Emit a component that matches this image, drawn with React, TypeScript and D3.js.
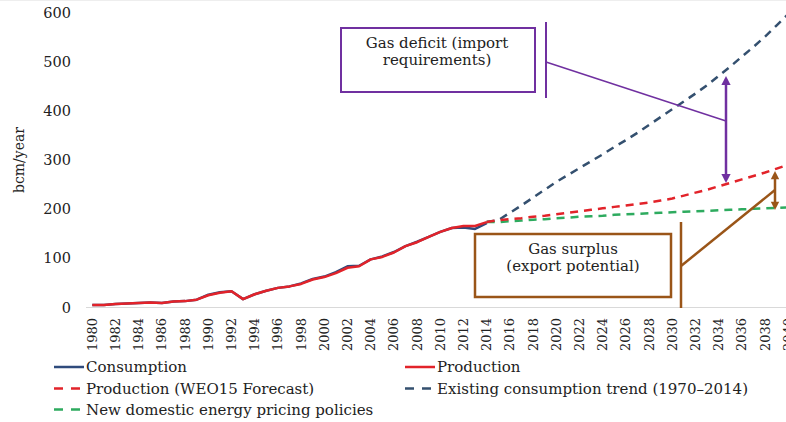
import React from "react";
import * as d3 from "d3";

const histYears = d3.range(1980, 2015);
const consumption = [5, 5, 7, 8, 9, 10, 9, 12, 13, 16, 26, 31, 33, 17, 27, 34, 40, 43, 49, 58, 63, 72, 84, 85, 98, 104, 113, 125, 134, 144, 154, 162, 163, 160, 172];
const production = [5, 5, 7, 8, 9, 10, 9, 12, 13, 16, 25, 30, 33, 17, 27, 34, 40, 43, 48, 57, 62, 70, 81, 84, 98, 103, 112, 125, 133, 144, 154, 162, 166, 166, 174];

const fcYears = d3.range(2014, 2041);
const trend = [174, 178, 193, 208, 224, 240, 256, 270, 284, 298, 312, 327, 341, 356, 372, 388, 404, 420, 436, 453, 472, 491, 511, 531, 552, 575, 598];
const weo15 = [174, 178, 180, 182, 185, 187, 190, 193, 196, 199, 202, 205, 208, 211, 214, 218, 222, 228, 234, 240, 247, 254, 261, 268, 275, 283, 291];
const pricing = [174, 174, 176, 177, 179, 180, 182, 183, 185, 186, 187, 189, 190, 191, 192, 193, 194, 195, 196, 197, 198, 199, 200, 201, 202, 203, 204];

const allYears = d3.range(1980, 2041);
const tickYears = allYears.filter((y) => (y - 1980) % 2 === 0);
const yTicks = [0, 100, 200, 300, 400, 500, 600];

const C_BLUE = "#2f4b7c";
const C_RED = "#e2232a";
const C_DBLUE = "#34506f";
const C_GREEN = "#2eab5f";
const C_PURPLE = "#7030a0";
const C_BROWN = "#9a5518";
const FONT = "'DejaVu Serif', serif";

export default function App() {
  const W = 786, H = 422;
  const x = d3.scalePoint<number>().domain(allYears).range([86.5, 794.1]).padding(0.5);
  const y = d3.scaleLinear().domain([0, 600]).range([307.5, 13]);
  const line = d3.line<[number, number]>().x((d) => x(d[0])!).y((d) => y(d[1]));
  const zip = (ys: number[], vs: number[]) => ys.map((yr, i) => [yr, vs[i]] as [number, number]);

  const legend = [
    { label: "Consumption", color: C_BLUE, dash: null, lx: 54, row: 0 },
    { label: "Production", color: C_RED, dash: null, lx: 405, row: 0 },
    { label: "Production (WEO15 Forecast)", color: C_RED, dash: "9,8", lx: 54, row: 1 },
    { label: "Existing consumption trend (1970–2014)", color: C_DBLUE, dash: "9,8", lx: 405, row: 1 },
    { label: "New domestic energy pricing policies", color: C_GREEN, dash: "9,8", lx: 54, row: 2 },
  ];
  const rowY = [367, 388.5, 409.5];

  const arrowHead = (cx: number, cy: number, dir: number, color: string, s = 6) => (
    <path d={`M${cx - s / 1.3},${cy + dir * s * 1.5} L${cx},${cy} L${cx + s / 1.3},${cy + dir * s * 1.5} Z`} fill={color} />
  );

  return (
    <div style={{ position: "absolute", left: 0, top: 0 }}>
      <svg width={W} height={H} style={{ display: "block", background: "#fff" }} fontFamily={FONT}>
        <line x1={0} x2={W} y1={0.5} y2={0.5} stroke="#eeeeee" />
        {/* baseline */}
        <line x1={86} x2={W} y1={y(0)} y2={y(0)} stroke="#d9d9d9" strokeWidth={1} />
        {/* y ticks */}
        {yTicks.map((t) => (
          <text key={t} x={71} y={y(t)} textAnchor="end" dominantBaseline="central" fontSize={14.5} fill="#222">
            {t}
          </text>
        ))}
        <text transform={`translate(19,160) rotate(-90)`} textAnchor="middle" dominantBaseline="central" fontSize={14} fill="#222">
          bcm/year
        </text>
        {/* x ticks */}
        {tickYears.map((t) => (
          <text key={t} transform={`translate(${x(t)},318) rotate(-90)`} textAnchor="end" dominantBaseline="central" fontSize={13} fill="#222">
            {t}
          </text>
        ))}
        {/* forecast lines */}
        <path d={line(zip(fcYears, trend))!} fill="none" stroke={C_DBLUE} strokeWidth={2.5} strokeDasharray="8,6" />
        <path d={line(zip(fcYears, pricing))!} fill="none" stroke={C_GREEN} strokeWidth={2.5} strokeDasharray="8,6" />
        <path d={line(zip(fcYears, weo15))!} fill="none" stroke={C_RED} strokeWidth={2.5} strokeDasharray="8,6" />
        {/* history */}
        <path d={line(zip(histYears, consumption))!} fill="none" stroke={C_BLUE} strokeWidth={2.5} strokeLinejoin="round" />
        <path d={line(zip(histYears, production))!} fill="none" stroke={C_RED} strokeWidth={2.5} strokeLinejoin="round" />

        {/* deficit annotation */}
        <rect x={341} y={28} width={194} height={64} fill="#fff" stroke={C_PURPLE} strokeWidth={2} />
        <text x={437} y={43} textAnchor="middle" dominantBaseline="central" fontSize={15} fill="#222">Gas deficit (import</text>
        <text x={437} y={60} textAnchor="middle" dominantBaseline="central" fontSize={15} fill="#222">requirements)</text>
        <line x1={546} x2={546} y1={22} y2={98} stroke={C_PURPLE} strokeWidth={2} />
        <line x1={546} y1={62} x2={726} y2={121} stroke={C_PURPLE} strokeWidth={1.5} />
        <line x1={726} x2={726} y1={84} y2={175} stroke={C_PURPLE} strokeWidth={2.5} />
        {arrowHead(726, 76, 1, C_PURPLE)}
        {arrowHead(726, 183, -1, C_PURPLE)}

        {/* surplus annotation */}
        <rect x={475} y={234} width={196} height={63} fill="#fff" stroke={C_BROWN} strokeWidth={2.5} />
        <text x={573} y={249} textAnchor="middle" dominantBaseline="central" fontSize={15} fill="#222">Gas surplus</text>
        <text x={573} y={266} textAnchor="middle" dominantBaseline="central" fontSize={15} fill="#222">(export potential)</text>
        <line x1={681} x2={681} y1={222} y2={308} stroke={C_BROWN} strokeWidth={2.5} />
        <line x1={681} y1={266} x2={775} y2={190} stroke={C_BROWN} strokeWidth={2.5} />
        <line x1={775} x2={775} y1={178} y2={203} stroke={C_BROWN} strokeWidth={2.5} />
        {arrowHead(775, 171, 1, C_BROWN, 5.5)}
        {arrowHead(775, 210, -1, C_BROWN, 5.5)}

        {/* legend */}
        {legend.map((l) => (
          <g key={l.label}>
            <line x1={l.lx} x2={l.lx + 30} y1={rowY[l.row]} y2={rowY[l.row]} stroke={l.color} strokeWidth={2.5} strokeDasharray={l.dash ?? undefined} />
            <text x={l.lx + 32} y={rowY[l.row]} dominantBaseline="central" fontSize={15} fill="#222">{l.label}</text>
          </g>
        ))}
      </svg>
    </div>
  );
}
